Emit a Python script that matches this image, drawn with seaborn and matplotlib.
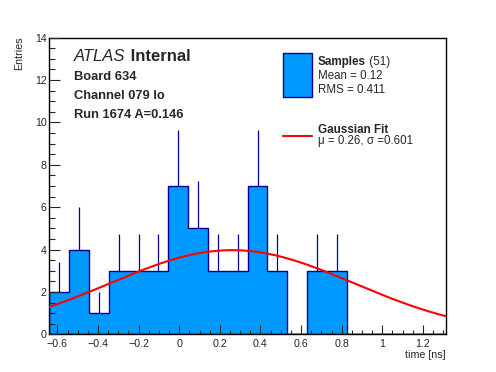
import numpy as np
import pandas as pd
import matplotlib
matplotlib.use("Agg")
import matplotlib.pyplot as plt
import seaborn as sns
from matplotlib.patches import Rectangle
from matplotlib.lines import Line2D
from matplotlib.ticker import MultipleLocator

# histogram: 20 bins from -0.64 to 1.314 ns
x_min, x_max, n_bins = -0.64, 1.314, 20
counts = [2, 4, 1, 3, 3, 3, 7, 5, 3, 3, 7, 3, 0, 3, 3, 0, 0, 0, 0, 0]

# gaussian fit parameters
fit_amp, fit_mu, fit_sigma = 3.97, 0.26, 0.601

header = ["Board 634", "Channel 079 lo", "Run 1674 A=0.146"]
stats = ["Mean = 0.12", "RMS = 0.411"]

sns.set_style("ticks")
plt.rcParams["font.family"] = ["Liberation Sans", "DejaVu Sans"]

edges = np.linspace(x_min, x_max, n_bins + 1)
centers = 0.5 * (edges[:-1] + edges[1:])
counts = np.array(counts, dtype=float)
hist_df = pd.DataFrame({"time": centers, "n": counts})

fill_col = "#0099ff"
edge_col = "#000099"

fig = plt.figure(figsize=(4.96, 3.72), dpi=100)
ax = fig.add_axes([0.0994, 0.1013, 0.7998, 0.7978])

# error bars (upper half only, the fill covers the rest)
nz = counts > 0
ax.errorbar(centers[nz], counts[nz], yerr=[np.zeros(nz.sum()), np.sqrt(counts[nz])],
            fmt="none", ecolor=edge_col, elinewidth=0.9, capsize=0, zorder=1)

sns.histplot(data=hist_df, x="time", weights="n", bins=n_bins, binrange=(x_min, x_max),
             element="step", fill=True, color=fill_col, alpha=1, edgecolor=edge_col,
             linewidth=1.0, ax=ax, zorder=2)

xs = np.linspace(x_min, x_max, 300)
ys = fit_amp * np.exp(-0.5 * ((xs - fit_mu) / fit_sigma) ** 2)
sns.lineplot(x=xs, y=ys, color="red", linewidth=1.5, ax=ax, zorder=3)

ax.set_axisbelow(False)
ax.set_xlim(x_min, x_max)
ax.set_ylim(0, 14)
ax.xaxis.set_major_locator(MultipleLocator(0.2))
ax.xaxis.set_minor_locator(MultipleLocator(0.05))
ax.yaxis.set_major_locator(MultipleLocator(2))
ax.yaxis.set_minor_locator(MultipleLocator(0.5))
ax.xaxis.set_major_formatter(matplotlib.ticker.FuncFormatter(
    lambda v, p: "0" if abs(v) < 1e-9 else ("%g" % round(v, 2)).replace("-", "\u2212")))
ax.tick_params(axis="x", which="major", direction="in", length=6.5, width=0.8,
               labelsize=7.7, pad=3.5)
ax.tick_params(axis="x", which="minor", direction="in", length=3.2, width=0.8)
ax.tick_params(axis="y", which="major", direction="in", length=7.7, width=0.8,
               labelsize=7.7, pad=2)
ax.tick_params(axis="y", which="minor", direction="in", length=4, width=0.8)
for s in ax.spines.values():
    s.set_visible(True)
    s.set_linewidth(1.0)
    s.set_color("black")

ax.set_xlabel("")
ax.set_ylabel("")
fig.text(446 / 496, 1 - 355 / 372, "time [ns]", ha="right", va="center", fontsize=7.7)
fig.text(19.5 / 496, 1 - 36.5 / 372, "Entries", ha="center", va="top", rotation=90,
         fontsize=7.7)

# ATLAS label
t = fig.text(74 / 496, 1 - 61 / 372, "ATLAS", fontsize=12, style="italic",
             ha="left", va="baseline")
ax.annotate(" Internal", xy=(1, 0), xycoords=t, fontsize=12, fontweight="bold",
            ha="left", va="bottom", annotation_clip=False)
for i, line in enumerate(header):
    fig.text(74 / 496, 1 - (80 + 18.8 * i) / 372, line, fontsize=9.3, fontweight="bold",
             ha="left", va="baseline")

# legend
fig.patches.append(Rectangle((283.3 / 496, 1 - 96.7 / 372), 28.4 / 496, 43.4 / 372,
                             transform=fig.transFigure, facecolor=fill_col,
                             edgecolor=edge_col, linewidth=1.0))
fig.lines.append(Line2D([283.3 / 496, 311.7 / 496], [1 - 136 / 372] * 2,
                        transform=fig.transFigure, color="red", linewidth=1.5))
t2 = fig.text(317.7 / 496, 1 - 65 / 372, "Samples", fontsize=8.4, fontweight="bold",
              ha="left", va="baseline")
ax.annotate(" (51)", xy=(1, 0), xycoords=t2, fontsize=8.4, ha="left", va="bottom",
            annotation_clip=False)
for i, line in enumerate(stats):
    fig.text(317.7 / 496, 1 - (79.3 + 14 * i) / 372, line, fontsize=8.3,
             ha="left", va="baseline")
fig.text(317.7 / 496, 1 - 132.7 / 372, "Gaussian Fit", fontsize=8.4, fontweight="bold",
         ha="left", va="baseline")
fig.text(317.7 / 496, 1 - 144.3 / 372,
         "\u03bc = %.2f, \u03c3 =%.3f" % (fit_mu, fit_sigma),
         fontsize=8.3, ha="left", va="baseline")

fig.savefig("out.png", dpi=100)
